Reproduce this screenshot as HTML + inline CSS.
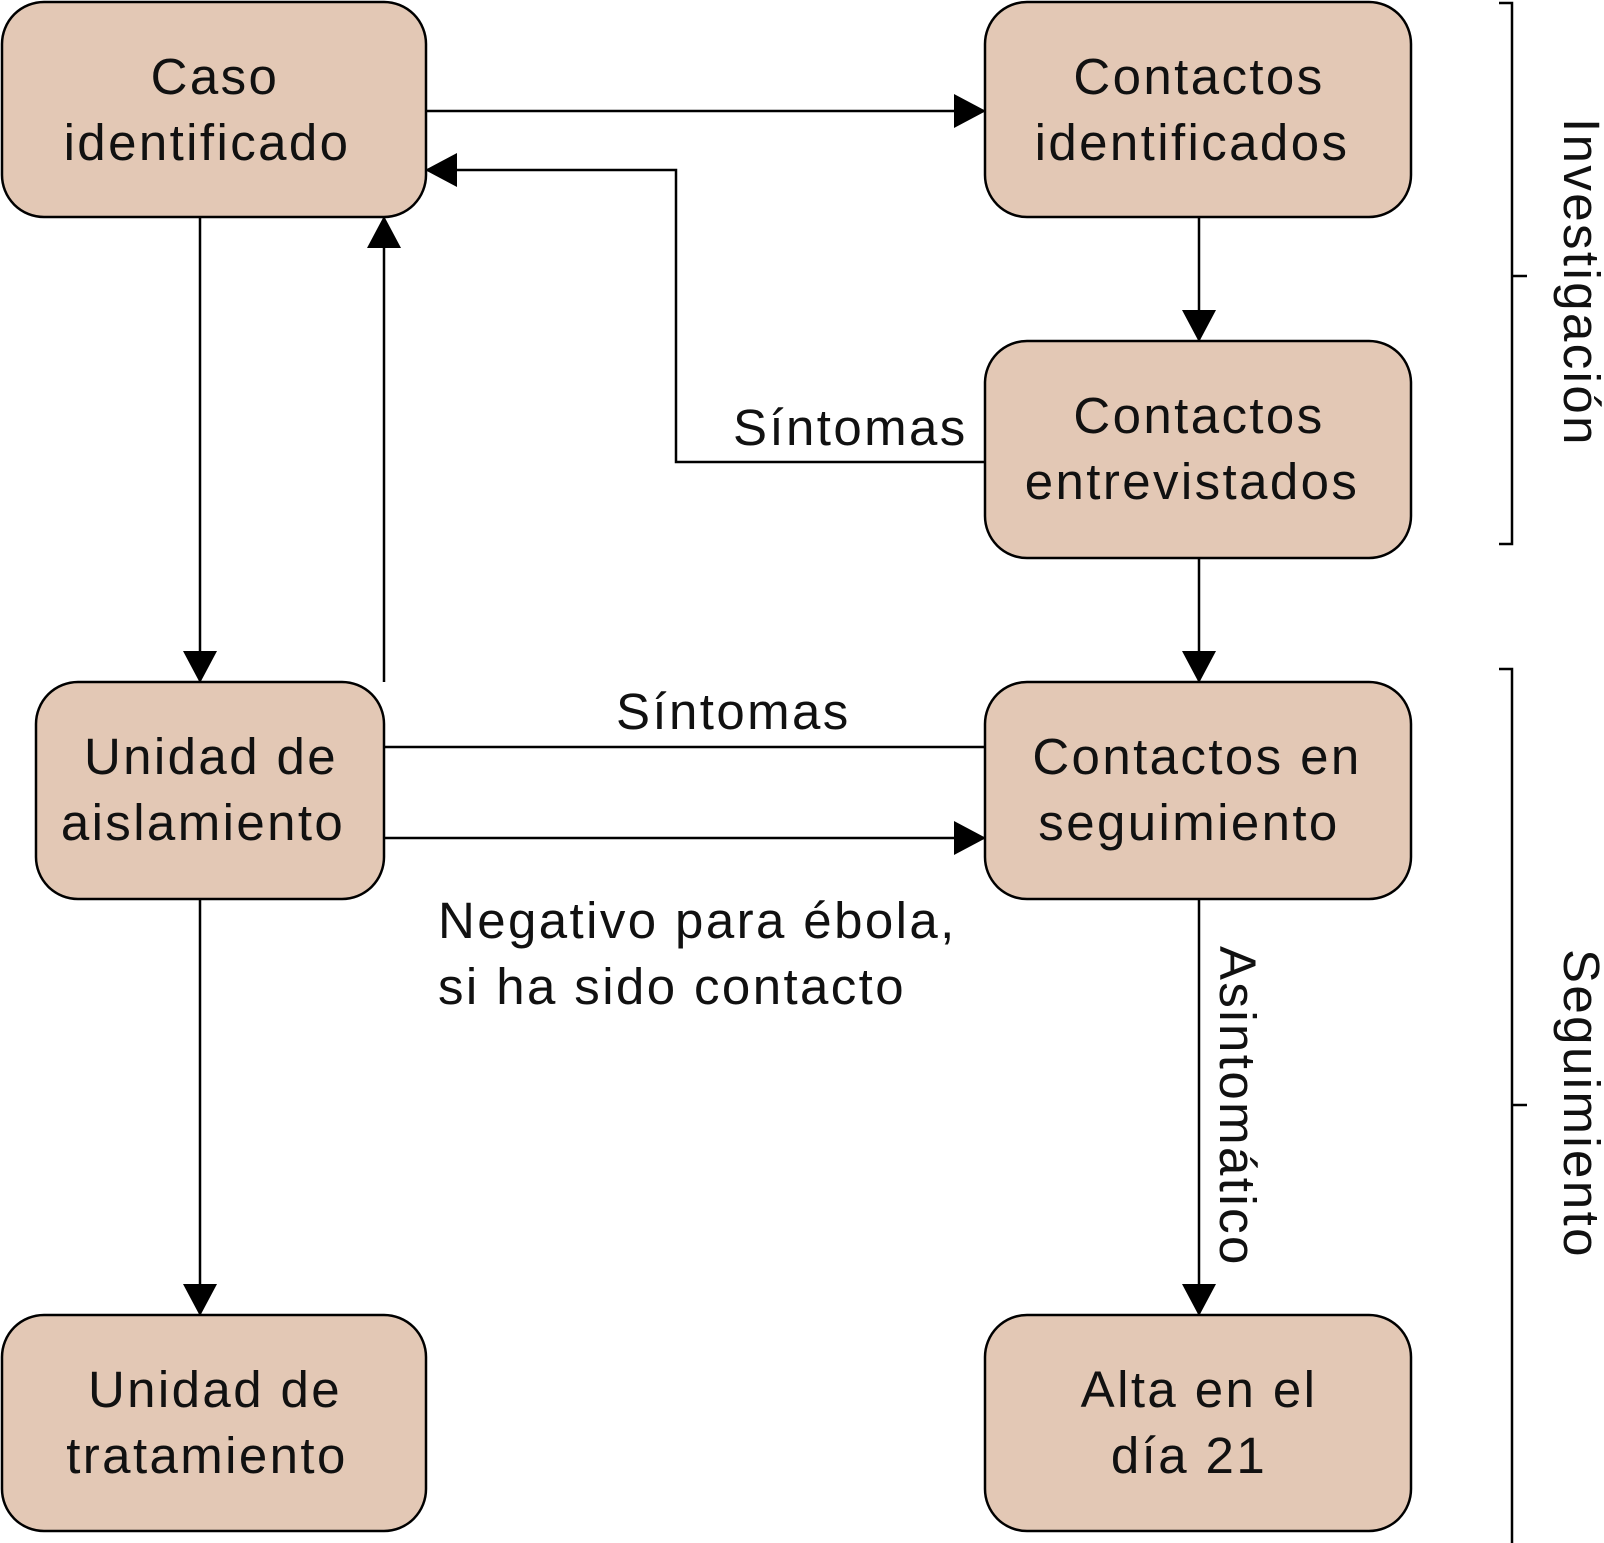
<!DOCTYPE html>
<html><head><meta charset="utf-8"><style>
html,body{margin:0;padding:0;background:#fff;}
svg{display:block;}
text{font-family:"Liberation Sans",Arial,sans-serif;fill:#111;letter-spacing:2.4px;}
</style></head><body>
<svg width="1604" height="1543" viewBox="0 0 1604 1543" xmlns="http://www.w3.org/2000/svg">
<defs>
<marker id="ah" markerWidth="32" markerHeight="34" refX="31" refY="17" orient="auto" markerUnits="userSpaceOnUse">
<path d="M0,0 L32,17 L0,34 Z" fill="#000"/>
</marker>
</defs>
<g fill="#e3c8b5" stroke="#000" stroke-width="2.5">
<rect x="2" y="2" width="424" height="215" rx="42"/>
<rect x="985" y="2" width="426" height="215" rx="42"/>
<rect x="985" y="341" width="426" height="217" rx="42"/>
<rect x="36" y="682" width="348" height="217" rx="42"/>
<rect x="985" y="682" width="426" height="217" rx="42"/>
<rect x="2" y="1315" width="424" height="216" rx="42"/>
<rect x="985" y="1315" width="426" height="216" rx="42"/>
</g>
<g stroke="#000" stroke-width="2.5" fill="none">
<line x1="426" y1="111" x2="985" y2="111" marker-end="url(#ah)"/>
<polyline points="985,462 676,462 676,170 426,170" marker-end="url(#ah)"/>
<line x1="200" y1="217" x2="200" y2="682" marker-end="url(#ah)"/>
<line x1="384" y1="682" x2="384" y2="217" marker-end="url(#ah)"/>
<line x1="1199" y1="217" x2="1199" y2="341" marker-end="url(#ah)"/>
<line x1="1199" y1="558" x2="1199" y2="682" marker-end="url(#ah)"/>
<line x1="384" y1="747" x2="985" y2="747"/>
<line x1="384" y1="838" x2="985" y2="838" marker-end="url(#ah)"/>
<line x1="200" y1="899" x2="200" y2="1315" marker-end="url(#ah)"/>
<line x1="1199" y1="899" x2="1199" y2="1315" marker-end="url(#ah)"/>
<polyline points="1499,3 1512,3 1512,544 1499,544"/>
<line x1="1512" y1="276" x2="1527" y2="276"/>
<polyline points="1499,669 1512,669 1512,1543"/>
<line x1="1512" y1="1105" x2="1527" y2="1105"/>
</g>
<g font-size="51" text-anchor="middle">
<text x="215" y="94">Caso</text><text x="207" y="160">identificado</text>
<text x="1199" y="94">Contactos</text><text x="1192" y="160">identificados</text>
<text x="1199" y="433">Contactos</text><text x="1192" y="499">entrevistados</text>
<text x="211" y="774">Unidad de</text><text x="203" y="840">aislamiento</text>
<text x="1197" y="774">Contactos en</text><text x="1189" y="840">seguimiento</text>
<text x="215" y="1407">Unidad de</text><text x="207" y="1473">tratamiento</text>
<text x="1199" y="1407">Alta en el</text><text x="1189" y="1473">día 21</text>
</g>
<g font-size="51">
<text x="733" y="445">Síntomas</text>
<text x="616" y="729">Síntomas</text>
<text x="438" y="938">Negativo para ébola,</text>
<text x="438" y="1004">si ha sido contacto</text>
<text x="0" y="0" transform="translate(1220,946) rotate(90)">Asintomático</text>
<text x="0" y="0" transform="translate(1564,118) rotate(90)">Investigación</text>
<text x="0" y="0" transform="translate(1564,949) rotate(90)">Seguimiento</text>
</g>
</svg>
</body></html>
